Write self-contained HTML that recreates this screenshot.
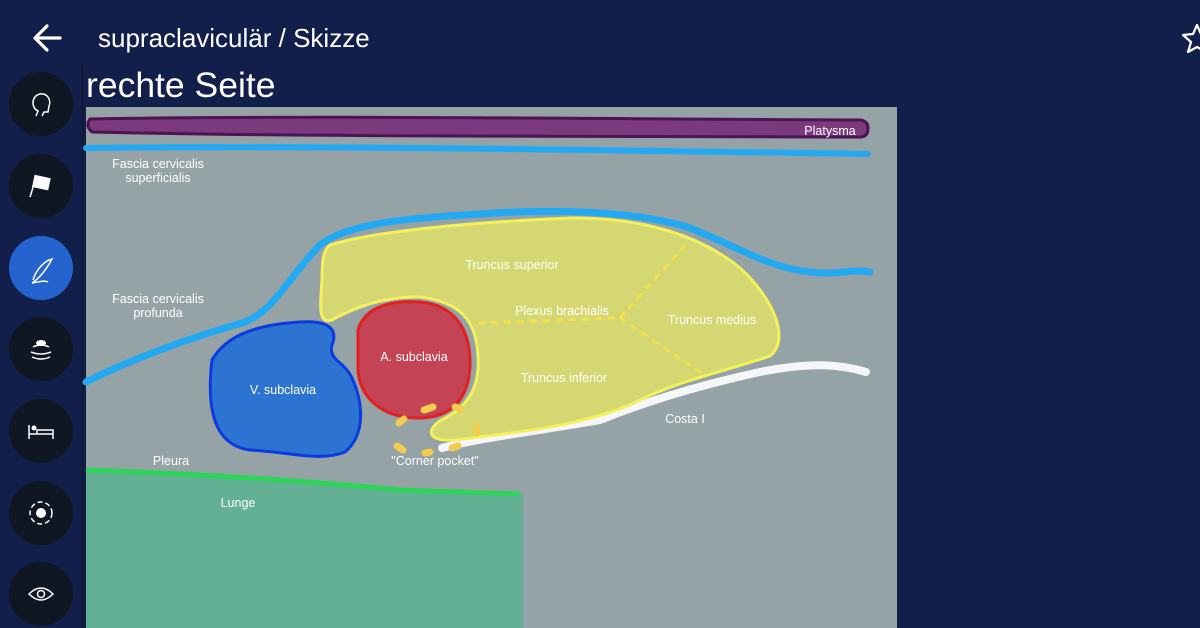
<!DOCTYPE html>
<html><head><meta charset="utf-8"><style>
html,body{margin:0;padding:0;width:1200px;height:628px;overflow:hidden;background:#131f4b;font-family:"Liberation Sans",sans-serif}
</style></head><body>
<svg width="1200" height="628" viewBox="0 0 1200 628" xmlns="http://www.w3.org/2000/svg" style="position:absolute;left:0;top:0">
<rect width="1200" height="628" fill="#131f4b"/>
<line x1="82.5" y1="65" x2="82.5" y2="628" stroke="#0e1838" stroke-width="2"/>
<path d="M60 38 H35 M47 26 L35 38 L47 50" stroke="#fff" stroke-width="3.2" fill="none" stroke-linecap="round" stroke-linejoin="round"/>
<text x="98" y="47" fill="#fff" font-size="26">supraclaviculär / Skizze</text>
<polygon points="1197,25 1201,34 1211,35 1203,42 1206,52 1197,47 1188,52 1191,42 1183,35 1193,34" fill="none" stroke="#fff" stroke-width="2.2" stroke-linejoin="round"/>
<text x="86" y="97" fill="#fff" font-size="35.5">rechte Seite</text>
<g fill="#0f1722">
<circle cx="41" cy="104" r="32"/><circle cx="41" cy="186" r="32"/>
<circle cx="41" cy="268" r="32" fill="#2563cf"/>
<circle cx="41" cy="349" r="32"/><circle cx="41" cy="431" r="32"/>
<circle cx="41" cy="513" r="32"/><circle cx="41" cy="594" r="32"/>
</g>
<g stroke="#fff" fill="none" stroke-width="1.5">
<path d="M36 116 L38 111 C31 108 31 96 40 94 C49 93 51 102 49 106 L48 112 L44 112 L42 116"/>
<path d="M30 197 L36 178" /><rect x="34" y="177" width="15" height="11" fill="#fff" transform="rotate(12 41 182)"/>
<path d="M32 283 C40 278 46 270 52 259 C44 261 36 270 33 280 M32 283 C40 282 44 280 48 282"/>
<path d="M33 347 Q41 343 49 347 M31 352 Q41 356 51 352 M32 357 Q41 361 50 357"/>
<path d="M29 425 V439 M29 434 H53 V439 M37 430 H53 V434 H37 Z" />
<circle cx="41" cy="513" r="11" stroke-dasharray="5 3"/>
<path d="M29 594 Q41 582 53 594 Q41 606 29 594 Z"/><circle cx="41" cy="594" r="3.5"/>
</g>
<ellipse cx="41" cy="343" rx="5" ry="3" fill="#fff"/>
<circle cx="34" cy="428" r="2.5" fill="#fff"/>
<circle cx="41" cy="513" r="5" fill="#fff"/>
<rect x="86" y="107" width="811" height="521" fill="#95a2a6"/>
<path d="M86 470 C200 474 300 480 400 490 C460 492 500 493 523 494 V628 H86 Z" fill="#64b095"/>
<path d="M86 470 C200 474 300 480 400 490 C460 492 500 493 520 494" stroke="#2fd35a" stroke-width="5" fill="none"/>
<path d="M90 119 C300 115 600 119 860 120 Q868 121 868 128 Q868 137 860 137 C600 136 300 137 92 132 Q85 126 90 119 Z" fill="#7a3a7d" stroke="#4d1452" stroke-width="3"/>
<path d="M86 148 C300 145 600 150 868 154" stroke="#22a9f2" stroke-width="6" fill="none" stroke-linecap="round"/>
<path d="M86 382 C140 355 200 335 245 322 C275 310 290 275 320 245 C345 225 400 218 480 214 C560 208 640 212 690 228 C740 248 770 268 810 272 C840 276 850 268 870 272" stroke="#22a9f2" stroke-width="7" fill="none" stroke-linecap="round"/>
<path d="M442 448 C480 438 530 432 600 420 C650 400 700 385 760 372 C810 362 840 364 866 372" stroke="#f4f6f8" stroke-width="8" fill="none" stroke-linecap="round"/>
<path d="M330 245 C380 230 480 222 570 218 C640 217 700 235 740 268 C775 300 790 340 770 356 C730 370 680 380 640 400 C590 425 520 432 455 440 C420 442 430 425 445 418 C470 405 480 385 478 355 C476 320 460 302 420 297 C380 296 350 310 332 320 C318 325 320 305 322 280 C322 262 323 250 330 245 Z" fill="#d5d772" stroke="#f4f15a" stroke-width="3"/>
<g stroke="#f3e24a" stroke-width="3" stroke-dasharray="7 6" fill="none">
<path d="M478 323 L620 318"/><path d="M620 318 L686 244"/><path d="M620 318 L706 376"/>
</g>
<path d="M358 330 C365 305 395 300 420 302 C455 305 470 330 470 362 C470 395 455 418 418 418 C385 418 360 400 358 370 Z" fill="#c44354" stroke="#e32020" stroke-width="3"/>
<path d="M212 360 C225 338 250 325 300 322 C330 320 338 330 332 345 C328 360 345 362 352 378 C364 405 365 435 345 452 C320 462 290 452 250 450 C220 446 205 420 212 360 Z" fill="#2d74d2" stroke="#0a3be0" stroke-width="3"/>
<g stroke="#f2cd4e" stroke-width="7" stroke-linecap="round">
<path d="M424 410 L433 407"/><path d="M404 419 L399 423"/><path d="M397 446 L403 450"/>
<path d="M425 453 L430 452"/><path d="M452 448 L458 446"/><path d="M477 426 L477 433"/><path d="M455 407 L461 409"/>
</g>
<g fill="#fff" font-size="12.5" text-anchor="middle">
<text x="830" y="135">Platysma</text>
<text x="158" y="168">Fascia cervicalis</text><text x="158" y="182">superficialis</text>
<text x="158" y="303">Fascia cervicalis</text><text x="158" y="317">profunda</text>
<text x="512" y="269">Truncus superior</text>
<text x="562" y="315">Plexus brachialis</text>
<text x="712" y="324">Truncus medius</text>
<text x="414" y="361">A. subclavia</text>
<text x="564" y="382">Truncus inferior</text>
<text x="283" y="394">V. subclavia</text>
<text x="685" y="423">Costa I</text>
<text x="435" y="465">"Corner pocket"</text>
<text x="171" y="465">Pleura</text>
<text x="238" y="507">Lunge</text>
</g>
</svg>
</body></html>
